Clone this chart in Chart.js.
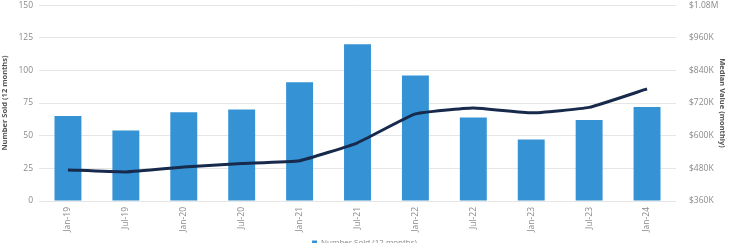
<!DOCTYPE html>
<html>
<head>
<meta charset="utf-8">
<script src="https://cdn.jsdelivr.net/npm/chart.js@4/dist/chart.umd.min.js"></script>
<style>
    html, body { margin: 0; padding: 0; background: #fff; overflow: hidden; }
    #wrap { position: relative; width: 729px; height: 263px; margin-top: -6px; }
</style>
</head>
<body>
<div id="wrap"><canvas id="chart"></canvas></div>
<script>
// Chart data
const periods = ['Jan-19', 'Jul-19', 'Jan-20', 'Jul-20', 'Jan-21', 'Jul-21', 'Jan-22', 'Jul-22', 'Jan-23', 'Jul-23', 'Jan-24'];
const numberSold = [65, 54, 68, 70, 91, 120, 96, 64, 47, 62, 72];
const medianValue = [474000, 467000, 485000, 498000, 508000, 574000, 680000, 702000, 684000, 704000, 772000];

const soldTicks = [0, 25, 50, 75, 100, 125, 150];
const valueTicks = [360000, 480000, 600000, 720000, 840000, 960000, 1080000];

const tickFont = { family: 'Open Sans', size: 8.5 };
const tickColor = '#8a8a8a';

function formatValue(v) {
    if (v >= 1000000) return '$' + (v / 1000000).toFixed(2) + 'M';
    return '$' + Math.round(v / 1000) + 'K';
}

const ctx = document.getElementById('chart').getContext('2d');
new Chart(ctx, {
    data: {
        labels: periods,
        datasets: [
            {
                type: 'line',
                label: 'Median Value (monthly)',
                data: medianValue,
                yAxisID: 'yValue',
                borderColor: '#172a4c',
                borderWidth: 3,
                pointRadius: 0,
                tension: 0.12,
                fill: false,
                order: 0
            },
            {
                type: 'bar',
                label: 'Number Sold (12 months)',
                data: numberSold,
                yAxisID: 'ySold',
                backgroundColor: '#3592d4',
                barPercentage: 0.93,
                categoryPercentage: 0.5,
                order: 1
            }
        ]
    },
    options: {
        responsive: true,
        maintainAspectRatio: false,
        animation: false,
        layout: { padding: 0 },
        plugins: {
            legend: {
                position: 'bottom',
                labels: {
                    color: '#888',
                    font: { family: 'Open Sans', size: 8 },
                    boxWidth: 5,
                    boxHeight: 5,
                    padding: 2,
                    filter: (item) => item.datasetIndex === 1
                }
            },
            tooltip: { enabled: false }
        },
        scales: {
            x: {
                grid: { display: false, drawTicks: false, tickLength: 0 },
                border: { display: false },
                ticks: {
                    color: tickColor,
                    font: tickFont,
                    minRotation: 90,
                    maxRotation: 90,
                    padding: 6
                },
                afterFit: (scale) => { scale.height = 36; }
            },
            ySold: {
                position: 'left',
                min: 0,
                max: 150,
                afterBuildTicks: (scale) => { scale.ticks = soldTicks.map((v) => ({ value: v })); },
                grid: { color: '#e6e6e6', lineWidth: 1, drawTicks: false },
                border: { display: false },
                ticks: { color: tickColor, font: tickFont, padding: 6 },
                title: {
                    display: true,
                    text: 'Number Sold (12 months)',
                    color: '#555',
                    font: { family: 'Open Sans', size: 7.5, weight: 'bold' },
                    padding: { top: 0, bottom: 2 }
                },
                afterFit: (scale) => { scale.width = 39; }
            },
            yValue: {
                position: 'right',
                min: 360000,
                max: 1080000,
                afterBuildTicks: (scale) => { scale.ticks = valueTicks.map((v) => ({ value: v })); },
                grid: { display: false },
                border: { display: false },
                ticks: { color: tickColor, font: tickFont, padding: 5, callback: (v) => formatValue(v) },
                title: {
                    display: true,
                    text: 'Median Value (monthly)',
                    color: '#555',
                    font: { family: 'Open Sans', size: 7.5, weight: 'bold' },
                    padding: { top: 2, bottom: 0 }
                },
                afterFit: (scale) => { scale.width = 53; }
            }
        }
    }
});
</script>
</body>
</html>
